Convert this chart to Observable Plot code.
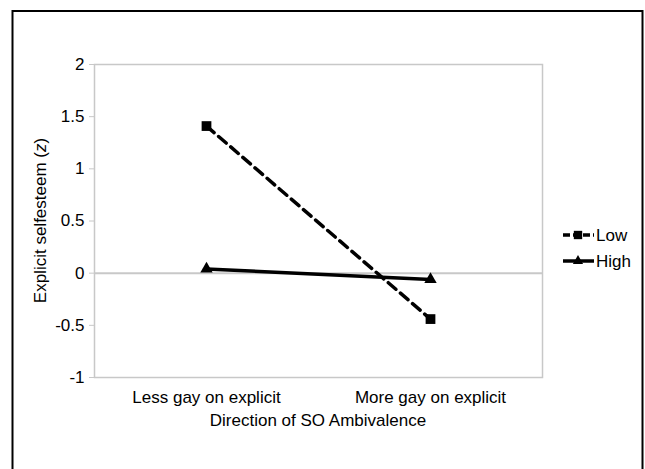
<!DOCTYPE html>
<html>
<head>
<meta charset="utf-8">
<script src="https://cdn.jsdelivr.net/npm/d3@7"></script>
<script src="https://cdn.jsdelivr.net/npm/@observablehq/plot@0.6"></script>
<style>
  html, body { margin: 0; padding: 0; background: white; }
  #chart { position: relative; width: 645px; height: 469px; }
</style>
</head>
<body>
<div id="chart"></div>
<script>
const categories = ["Less gay on explicit", "More gay on explicit"];
const lowValues = [1.41, -0.44];
const highValues = [0.04, -0.06];
const seriesNames = ["Low", "High"];
const yTicks = [-1, -0.5, 0, 0.5, 1, 1.5, 2];
const yTickLabels = ["-1", "-0.5", "0", "0.5", "1", "1.5", "2"];
const xTitle = "Direction of SO Ambivalence";
const yTitle = ["Explicit selfesteem (", "z", ")"];

const lowData = categories.map((c, i) => ({cat: c, v: lowValues[i], s: seriesNames[0]}));
const highData = categories.map((c, i) => ({cat: c, v: highValues[i], s: seriesNames[1]}));

const gray = "#c8c8c8";
const font = "'Liberation Sans', Arial, sans-serif";
const fs = 17;

const chart = Plot.plot({
  width: 645,
  height: 469,
  marginLeft: 94,
  marginRight: 103,
  marginTop: 64,
  marginBottom: 92,
  style: {fontFamily: font, fontSize: fs + "px", background: "white", color: "black", overflow: "visible"},
  x: {type: "point", domain: categories, padding: 0.5, label: null},
  y: {domain: [-1, 2], label: null},
  marks: [
    Plot.frame({stroke: gray, strokeWidth: 1.5}),
    Plot.ruleY([0], {stroke: gray, strokeWidth: 2}),
    Plot.axisY({ticks: yTicks, tickFormat: d => yTickLabels[yTicks.indexOf(d)], tickSize: 5, tickPadding: 5, stroke: gray, fill: "black", fontSize: fs, label: null}),
    Plot.axisX({tickSize: 0, tickPadding: 13, fill: "black", fontSize: fs, label: null}),
    Plot.line(lowData, {x: "cat", y: "v", stroke: "black", strokeWidth: 3.5, strokeDasharray: "10,6"}),
    Plot.line(highData, {x: "cat", y: "v", stroke: "black", strokeWidth: 3.5}),
    Plot.dot(lowData, {x: "cat", y: "v", symbol: "square", fill: "black", r: 5.5}),
    Plot.dot(highData, {x: "cat", y: "v", symbol: "triangle", fill: "black", r: 4.6})
  ]
});

document.getElementById("chart").appendChild(chart);

const svg = d3.select(chart);
const xr = chart.scale("x").range;
const yr = chart.scale("y").range;
const plotLeft = Math.min(...xr) - 112;
const plotRight = Math.max(...xr) + 112;

// outer border
svg.append("path")
  .attr("d", "M12.5,469 V11 H642.5 V469")
  .attr("fill", "none").attr("stroke", "black").attr("stroke-width", 2);

// x title
svg.append("text")
  .attr("x", (plotLeft + plotRight) / 2).attr("y", 426)
  .attr("text-anchor", "middle").attr("font-family", font).attr("font-size", fs)
  .attr("fill", "black").text(xTitle);

// y title
const yt = svg.append("text")
  .attr("transform", `translate(46,${(yr[0] + yr[1]) / 2}) rotate(-90)`)
  .attr("text-anchor", "middle").attr("font-family", font).attr("font-size", fs)
  .attr("fill", "black");
yt.append("tspan").text(yTitle[0]);
yt.append("tspan").attr("font-style", "italic").text(yTitle[1]);
yt.append("tspan").text(yTitle[2]);

// legend
const lg = svg.append("g");
const items = [
  {name: seriesNames[0], y: 235, dash: "7,3", sym: d3.symbolSquare, size: 70},
  {name: seriesNames[1], y: 261, dash: null, sym: d3.symbolTriangle, size: 45}
];
items.forEach(it => {
  const l = lg.append("line").attr("x1", 563).attr("x2", 594).attr("y1", it.y).attr("y2", it.y)
    .attr("stroke", "black").attr("stroke-width", 3.5);
  if (it.dash) l.attr("stroke-dasharray", it.dash);
  lg.append("path").attr("d", d3.symbol(it.sym, it.size)()).attr("transform", `translate(578,${it.y})`).attr("fill", "black");
  lg.append("text").attr("x", 596).attr("y", it.y).attr("dy", "0.35em")
    .attr("text-anchor", "start")
    .attr("font-family", font).attr("font-size", fs).attr("fill", "black").text(it.name);
});
</script>
</body>
</html>
